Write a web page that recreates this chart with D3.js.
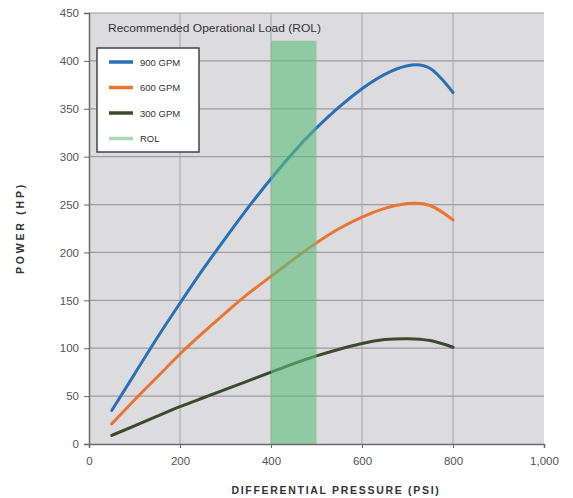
<!DOCTYPE html>
<html><head><meta charset="utf-8">
<script src="https://cdn.jsdelivr.net/npm/d3@7"></script>
<style>body{margin:0;background:#fff}svg{display:block}</style>
</head><body>
<script>
const pressure = [50,100,150,200,250,300,350,400,450,500,550,600,650,700,750,800];
const gpm900 = [35,73,111,147,182,215,247,277,305,330,352,371,386,395,392,367];
const gpm600 = [21,46,70,94,116,137,157,175,193,210,225,237,246,251,249,234];
const gpm300 = [9,19,29,39,48,57,66,75,84,92,99,105,109,110,108,101];
const seriesNames = ["900 GPM","600 GPM","300 GPM"];
const seriesColors = ["#2b6fb8","#ec7432","#3e4a2c"];
const rolRange = [400,500];
const rolTop = 421;
const xTicks = [0,200,400,600,800,1000];
const yTicks = [0,50,100,150,200,250,300,350,400,450];
const title = "Recommended Operational Load (ROL)";
const xLabel = "DIFFERENTIAL PRESSURE (PSI)";
const yLabel = "POWER (HP)";

const W=573,H=498;
const svg=d3.select("body").append("svg").attr("width",W).attr("height",H);
const x=d3.scaleLinear().domain([0,1000]).range([89,544]);
const y=d3.scaleLinear().domain([0,450]).range([444,13]);

svg.append("rect").attr("x",x(0)).attr("y",y(450)).attr("width",x(1000)-x(0)).attr("height",y(0)-y(450)).attr("fill","#dcdcde");

// gridlines
svg.append("g").selectAll("line").data(yTicks.filter(d=>d>0)).join("line")
  .attr("x1",x(0)).attr("x2",x(1000)).attr("y1",d=>y(d)).attr("y2",d=>y(d))
  .attr("stroke","#9c9c9e").attr("stroke-width",1.2);
svg.append("g").selectAll("line").data(xTicks.filter(d=>d>0&&d<1000)).join("line")
  .attr("x1",d=>x(d)).attr("x2",d=>x(d)).attr("y1",y(0)).attr("y2",y(450))
  .attr("stroke","#a4a4a8").attr("stroke-width",1);

// series
const allSeries=[gpm900,gpm600,gpm300];
const line=d3.line().x((d,i)=>x(pressure[i])).y(d=>y(d)).curve(d3.curveNatural);
allSeries.forEach((s,k)=>{
  svg.append("path").datum(s).attr("d",line).attr("fill","none")
    .attr("stroke",seriesColors[k]).attr("stroke-width",3).attr("stroke-linecap","round");
});

// ROL band
svg.append("rect").attr("x",x(rolRange[0])).attr("width",x(rolRange[1])-x(rolRange[0]))
  .attr("y",y(rolTop)).attr("height",y(0)-y(rolTop)).attr("fill","rgba(92,190,124,0.6)");

// axes
const ya=svg.append("g").attr("transform",`translate(${x(0)},0)`)
  .call(d3.axisLeft(y).tickValues(yTicks).tickSize(5).tickPadding(5));
const xa=svg.append("g").attr("transform",`translate(0,${y(0)})`)
  .call(d3.axisBottom(x).tickValues(xTicks).tickSize(4).tickPadding(9).tickFormat(d3.format(",")));
[ya,xa].forEach(a=>{
  a.select(".domain").attr("stroke","#6a6a6a").attr("stroke-width",1.5);
  a.selectAll(".tick line").attr("stroke","#6a6a6a");
  a.selectAll("text").attr("fill","#555").attr("font-family","Liberation Sans, Arial, sans-serif").attr("font-size",11.5);
});
xa.selectAll(".tick").filter(d=>d===0).select("line").remove();

// title
svg.append("text").attr("x",108).attr("y",32).text(title)
  .attr("font-family","Liberation Sans, Arial, sans-serif").attr("font-size",11).attr("fill","#333")
  .attr("textLength",213).attr("lengthAdjust","spacingAndGlyphs");

// legend
const lg=svg.append("g");
lg.append("rect").attr("x",97).attr("y",48).attr("width",102).attr("height",104)
  .attr("fill","#fff").attr("stroke","#444").attr("stroke-width",1.5);
const legItems=seriesNames.map((n,i)=>({n,c:seriesColors[i]})).concat([{n:"ROL",c:"#a9d8b8"}]);
legItems.forEach((d,i)=>{
  const yy=62+i*25.5;
  lg.append("line").attr("x1",109).attr("x2",133).attr("y1",yy).attr("y2",yy)
    .attr("stroke",d.c).attr("stroke-width",3.5);
  lg.append("text").attr("x",140).attr("y",yy+3.5).text(d.n)
    .attr("font-family","Liberation Sans, Arial, sans-serif").attr("font-size",9.5).attr("fill","#333");
});

// axis labels
svg.append("text").attr("x",336).attr("y",494).attr("text-anchor","middle").text(xLabel)
  .attr("font-family","Liberation Sans, Arial, sans-serif").attr("font-size",10.5).attr("font-weight","bold")
  .attr("fill","#333").attr("letter-spacing",1.7);
svg.append("text").attr("transform","translate(24,228) rotate(-90)").attr("text-anchor","middle").text(yLabel)
  .attr("font-family","Liberation Sans, Arial, sans-serif").attr("font-size",10.5).attr("font-weight","bold")
  .attr("fill","#333").attr("letter-spacing",2.8);
</script>
</body></html>
